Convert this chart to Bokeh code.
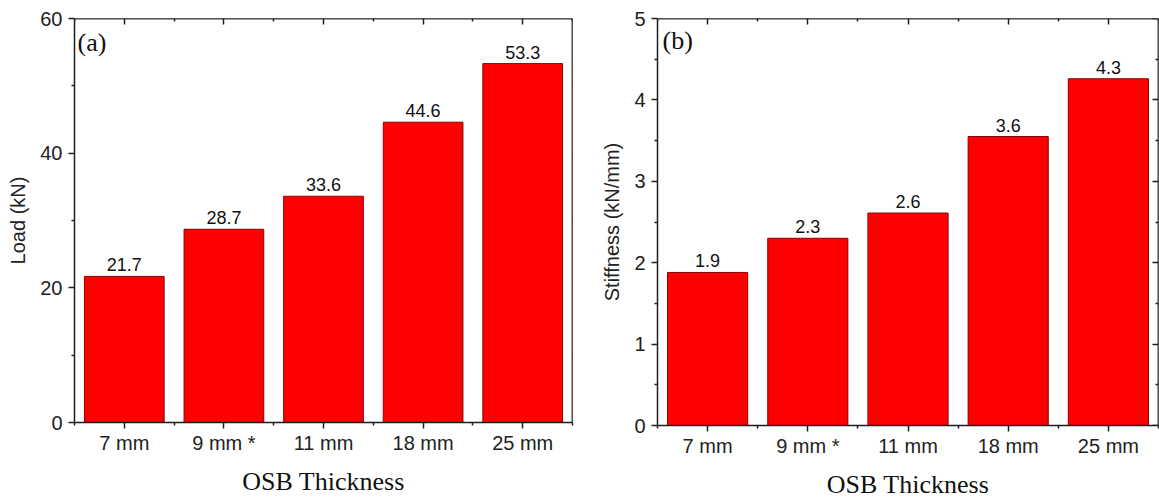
from bokeh.plotting import figure
from bokeh.layouts import row
from bokeh.models import LinearAxis, FixedTicker, Label, Range1d
from bokeh.embed import file_html
from bokeh.resources import INLINE
from bokeh.core.properties import value

# ---- data ----
categories = ["7 mm", "9 mm *", "11 mm", "18 mm", "25 mm"]
load_kn = [21.7, 28.7, 33.6, 44.6, 53.3]
load_labels = ["21.7", "28.7", "33.6", "44.6", "53.3"]
stiffness = [1.88, 2.30, 2.61, 3.55, 4.26]
stiffness_labels = ["1.9", "2.3", "2.6", "3.6", "4.3"]
load_ticks = [0, 20, 40, 60]
load_minor = [10, 30, 50]
stiff_ticks = [0, 1, 2, 3, 4, 5]
stiff_minor = [0.5, 1.5, 2.5, 3.5, 4.5]

SANS = "Liberation Sans"
SERIF = "Liberation Serif"
AX = "#1e1e1e"


def style_axis(ax, t_in, t_out, m_in, m_out, standoff=8):
    ax.axis_line_color = AX
    ax.axis_line_width = 1.5
    ax.major_tick_line_color = AX
    ax.minor_tick_line_color = AX
    ax.major_tick_line_width = 1.5
    ax.minor_tick_line_width = 1.5
    ax.major_tick_in = t_in
    ax.major_tick_out = t_out
    ax.minor_tick_in = m_in
    ax.minor_tick_out = m_out
    ax.major_label_text_font = SANS
    ax.major_label_text_font_size = "20px"
    ax.major_label_text_color = "#222222"
    ax.major_label_standoff = standoff


def mirror_axis(p, side, loc, ticks, length, inward):
    # label-free mirror axis: only minor ticks (no major ticks -> no labels)
    ax = LinearAxis(ticker=FixedTicker(ticks=[], minor_ticks=ticks),
                    fixed_location=loc)
    ax.axis_line_color = AX
    ax.axis_line_width = 1.5
    ax.minor_tick_line_color = AX
    ax.minor_tick_line_width = 1.5
    if inward:
        ax.minor_tick_in = length
        ax.minor_tick_out = 0
    else:
        ax.minor_tick_in = 0
        ax.minor_tick_out = length
    p.add_layout(ax, side)


def make_panel(values, labels, ymax, yticks, yminor, ylabel, tag,
               fw, fh, bl, br, bt, bb, tag_dx, tag_dy, right_in):
    n = len(categories)
    xs = list(range(1, n + 1))
    xminor = [i + 0.5 for i in range(n + 1)]
    p = figure(frame_width=fw, frame_height=fh,
               min_border_left=bl, min_border_right=br,
               min_border_top=bt, min_border_bottom=bb,
               x_range=Range1d(0.5, n + 0.5), y_range=Range1d(0, ymax),
               output_backend="svg", toolbar_location=None, tools="")
    p.outline_line_color = None
    p.xgrid.visible = False
    p.ygrid.visible = False
    p.background_fill_color = "white"
    p.border_fill_color = "white"

    xa = p.xaxis[0]
    xa.ticker = FixedTicker(ticks=xs, minor_ticks=xminor)
    xa.major_label_overrides = {x: c for x, c in zip(xs, categories)}
    style_axis(xa, 0, 6, 0, 3, standoff=3)
    xa.axis_label = "OSB Thickness"
    xa.axis_label_text_font = SERIF
    xa.axis_label_text_font_size = "26px"
    xa.axis_label_text_font_style = "normal"
    xa.axis_label_text_color = "#111111"
    xa.axis_label_standoff = 10

    ya = p.yaxis[0]
    ya.ticker = FixedTicker(ticks=yticks, minor_ticks=yminor)
    style_axis(ya, 0, 6, 0, 3, standoff=6)
    ya.axis_label = ylabel
    ya.axis_label_text_font = SANS
    ya.axis_label_text_font_size = "20px"
    ya.axis_label_text_font_style = "normal"
    ya.axis_label_text_color = "#222222"
    ya.axis_label_standoff = 8

    # top mirror axis: ticks pointing into the frame
    mirror_axis(p, "above", ymax, xs, 6, True)
    mirror_axis(p, "above", ymax, xminor, 3, True)
    # right mirror axis
    if right_in:
        mirror_axis(p, "right", n + 0.5, yticks, 6, True)
        mirror_axis(p, "right", n + 0.5, yminor, 3, True)
    else:
        mirror_axis(p, "right", n + 0.5, yticks, 4, False)
        mirror_axis(p, "right", n + 0.5, yminor, 2, False)

    p.vbar(x=xs, top=values, width=0.8, bottom=0,
           fill_color="#FF0000", line_color="#8a0000", line_width=1)
    p.text(x=xs, y=values, text=labels, text_align="center",
           text_baseline="bottom", y_offset=-5, text_font=value(SANS),
           text_font_size="18px", text_color="#111111")

    p.add_layout(Label(x=0.5, y=ymax, x_offset=tag_dx, y_offset=tag_dy,
                       text=tag, text_font=SERIF, text_font_size="26px",
                       text_baseline="alphabetic", text_color="#111111"))
    return p


p1 = make_panel(load_kn, load_labels, 60, load_ticks, load_minor,
                "Load (kN)", "(a)", 498, 404, 74, 18, 18, 77, 3, -24, False)
p2 = make_panel(stiffness, stiffness_labels, 5, stiff_ticks, stiff_minor,
                "Stiffness (kN/mm)", "(b)", 501, 407, 67, 1, 18, 74, 5, -22,
                True)

layout = row(p1, p2)
open("out.html", "w").write(file_html(layout, INLINE))
